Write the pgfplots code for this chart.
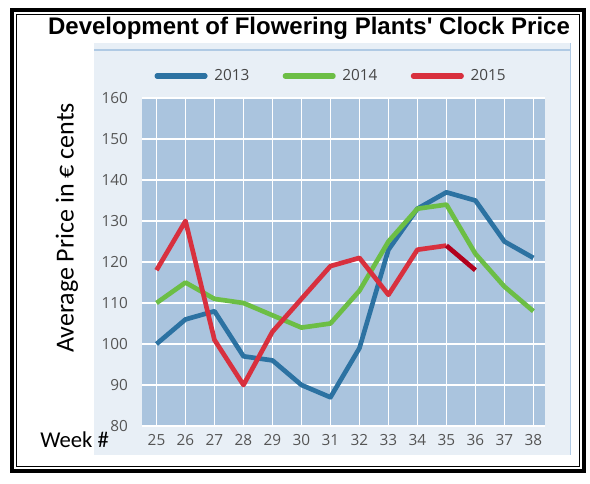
\documentclass[border=0pt]{standalone}
\usepackage{pgfplots}
\pgfplotsset{compat=1.18}
\usepackage{fontspec}
\setmainfont{Open Sans}
\newfontfamily\titlefont{Liberation Sans}
\newfontfamily\calib{Carlito}
\definecolor{plotbg}{RGB}{170,196,222}
\definecolor{panelbg}{RGB}{232,239,246}
\definecolor{panelline}{RGB}{176,202,228}
\definecolor{c13}{RGB}{44,114,162}
\definecolor{c14}{RGB}{108,190,69}
\definecolor{c15}{RGB}{216,48,62}
\definecolor{c15d}{RGB}{178,0,28}
\definecolor{ticktxt}{RGB}{85,85,85}
\definecolor{legtxt}{RGB}{70,70,70}

\pgfplotstableread{
week p2013 p2014
25 100 110
26 106 115
27 108 111
28 97 110
29 96 107
30 90 104
31 87 105
32 99 113
33 123 125
34 133 133
35 137 134
36 135 122
37 125 114
38 121 108
}\datamain
\pgfplotstableread{
week p2015
25 118
26 130
27 101
28 90
29 103
30 111
31 119
32 121
33 112
34 123
35 124
}\datared
\pgfplotstableread{
week p2015
35 124
36 118
}\datareddark

\begin{document}
\begin{tikzpicture}[x=0.75pt,y=0.75pt]
\path[use as bounding box] (0,0) rectangle (590,483);
% panel
\fill[panelbg] (94,440) rectangle (571,28);
\draw[panelline, line width=1.2pt] (94,433) -- (571,433);
\draw[panelline, line width=1pt] (570.5,440) -- (570.5,28);
\begin{axis}[
  at={(106.5pt,42.75pt)}, anchor=south west,
  width=302.25pt, height=246pt, scale only axis,
  xmin=24.5, xmax=38.4, ymin=80, ymax=160,
  xtick={25,...,38}, ytick={80,90,...,160},
  axis background/.style={fill=plotbg},
  axis line style={draw=none},
  grid=major,
  major grid style={white, line width=1pt},
  major tick length=0pt,
  /pgf/number format/assume math mode=true,
  tick label style={font=\fontsize{11.5}{13}\selectfont, text=ticktxt},
  yticklabel style={anchor=east, xshift=-7pt},
  xticklabel style={yshift=-3pt},
  legend style={at={(0.47,1.067)}, anchor=center, draw=none, fill=none,
    font=\fontsize{11.5}{13}\selectfont, text=legtxt,
    inner sep=0pt, column sep=0pt,
    /tikz/every odd column/.append style={column sep=3pt},
    /tikz/every even column/.append style={column sep=23pt}},
  legend columns=3,
  legend image code/.code={\draw[line width=3.8pt, line cap=round] (0pt,0pt) -- (36pt,0pt);},
  every axis plot/.append style={line width=3.5pt, line join=round},
]
\addplot[c13] table[x=week, y=p2013] {\datamain};
\addlegendentry{2013}
\addplot[c14] table[x=week, y=p2014] {\datamain};
\addlegendentry{2014}
\addplot[c15] table[x=week, y=p2015] {\datared};
\addlegendentry{2015}
\addplot[c15d, forget plot] table[x=week, y=p2015] {\datareddark};
\end{axis}
% texts
\node[anchor=base, font=\titlefont\bfseries\fontsize{18}{20}\selectfont] at (309,448) {Development of Flowering Plants' Clock Price};
\node[rotate=90, anchor=center, font=\calib\fontsize{19.5}{21}\selectfont] at (67,255) {Average Price in € cents};
\node[anchor=base west, inner sep=0pt, font=\calib\fontsize{17}{19}\selectfont] at (40,36) {Week \#};
% frame
\draw[line width=3pt] (12,473) rectangle (584,12);
\draw[line width=0.9pt] (16.5,468.5) rectangle (579.5,16.5);
\end{tikzpicture}
\end{document}
